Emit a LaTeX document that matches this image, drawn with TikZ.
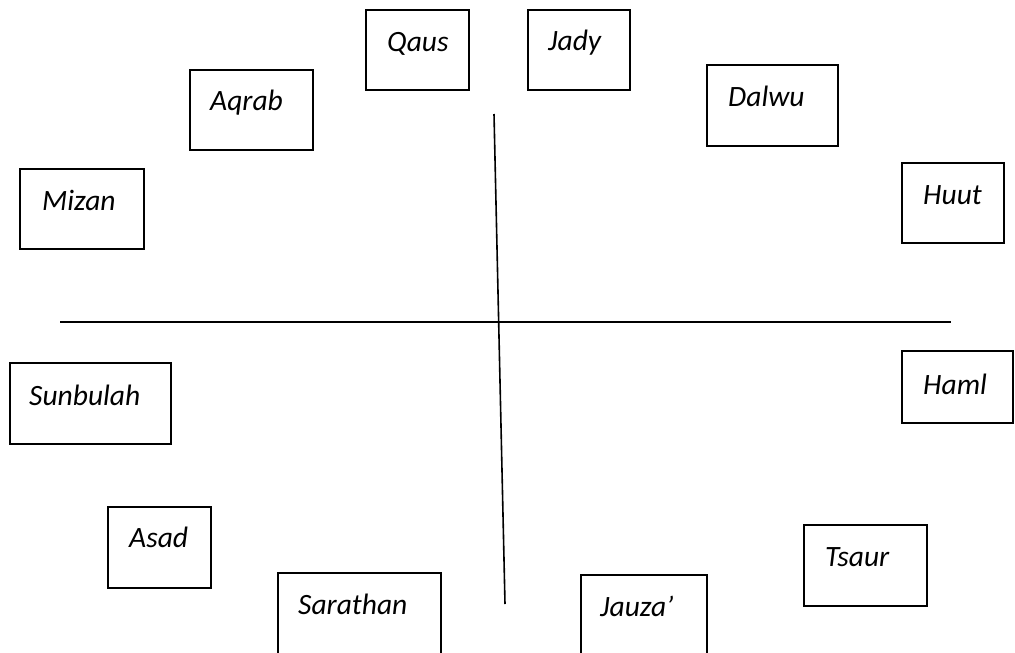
\documentclass[tikz,border=0pt]{standalone}
\usepackage{fontspec}
\setmainfont{Carlito}
\begin{document}
\begin{tikzpicture}[x=1pt,y=-1pt,
  box/.style={draw=black,line width=1.1pt,inner sep=0pt,outer sep=0pt,fill=none},
  lbl/.style={anchor=base west,inner sep=0pt,font=\fontsize{29.5}{32}\selectfont\itshape},
  axis/.style={draw=black,line width=1.6pt}]
\useasboundingbox (0,0) rectangle (1015,653);
\clip (0,0) rectangle (1015,653);
% boxes: centre, width, height
\newcommand{\zbox}[5]{\node[box,minimum width=#4,minimum height=#5] (#1) at (#2,#3) {};}
\zbox{qaus}{417.5}{50}{103}{80}
\zbox{jady}{579}{50}{102}{80}
\zbox{aqrab}{251.5}{110}{123}{80}
\zbox{dalwu}{772.5}{105.5}{131}{81}
\zbox{mizan}{82}{209}{124}{80}
\zbox{huut}{953}{203}{102}{80}
\zbox{sunbulah}{90.5}{403.5}{161}{81}
\zbox{haml}{957.5}{387}{111}{72}
\zbox{asad}{159.5}{547.5}{103}{81}
\zbox{tsaur}{865.5}{565.5}{123}{81}
\zbox{sarathan}{359.5}{616.5}{163}{87}
\zbox{jauza}{644}{617.5}{126}{85}
% labels
\node[lbl] (tqaus) at (387,51) {Qaus};
\node[lbl] (tjady) at (548,50) {Jady};
\node[lbl] (taqrab) at (210,110) {Aqrab};
\node[lbl] (tdalwu) at (728,106) {Dalwu};
\node[lbl] (tmizan) at (42,210) {Mizan};
\node[lbl] (thuut) at (923,204) {Huut};
\node[lbl] (thaml) at (923,394) {Haml};
\node[lbl] (tsunbulah) at (29,405) {Sunbulah};
\node[lbl] (tasad) at (129,547) {Asad};
\node[lbl] (ttsaur) at (825,566) {Tsaur};
\node[lbl] (tsarathan) at (298,614) {Sarathan};
\node[lbl] (tjauza) at (600,616) {Jauza’};
% axes
\coordinate (hl) at (60,322);
\coordinate (hr) at (951,322);
\coordinate (vt) at (494,114);
\coordinate (vb) at (505,604);
\draw[axis] (hl) -- (hr);
\draw[axis] (vt) -- (vb);
\end{tikzpicture}
\end{document}
